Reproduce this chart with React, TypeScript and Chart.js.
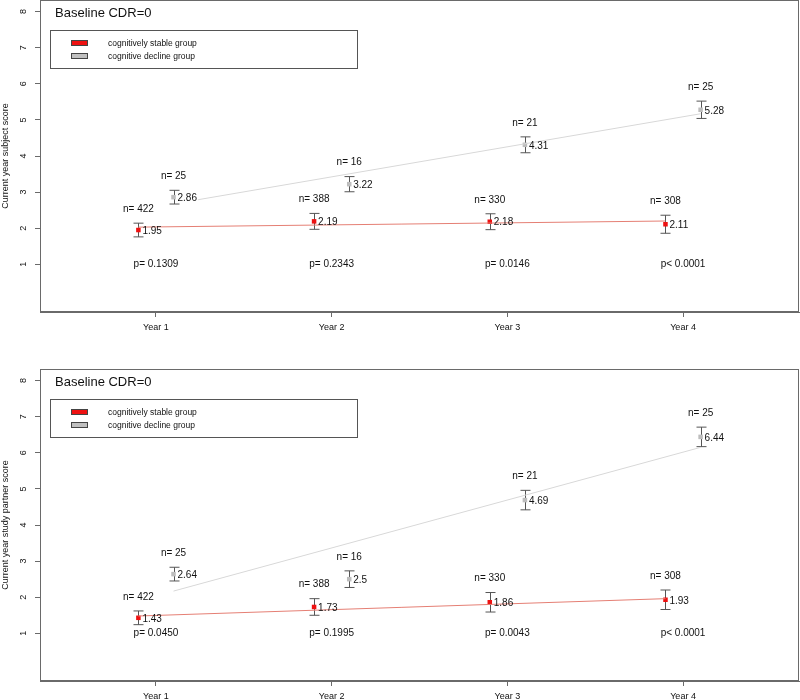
import React, { useEffect, useRef } from 'react';
import { Chart, registerables } from 'chart.js';

Chart.register(...registerables);

// ---------- data ----------
const years = ['Year 1', 'Year 2', 'Year 3', 'Year 4'];
const yearPositions = [1, 2, 3, 4];
const yTickValues = [1, 2, 3, 4, 5, 6, 7, 8];

const stableN = [422, 388, 330, 308];
const declineN = [25, 16, 21, 25];

// Top panel: subject score
const subjStableMean = [1.95, 2.19, 2.18, 2.11];
const subjStableErr = [0.19, 0.22, 0.22, 0.25];
const subjDeclineMean = [2.86, 3.22, 4.31, 5.28];
const subjDeclineErr = [0.19, 0.21, 0.22, 0.24];
const subjPLabels = ['p= 0.1309', 'p= 0.2343', 'p= 0.0146', 'p< 0.0001'];
const subjStableTrendX = [0.9, 3.9];
const subjStableTrendY = [2.03, 2.2];
const subjDeclineTrendX = [1.24, 4.1];
const subjDeclineTrendY = [2.79, 5.17];

// Bottom panel: study partner score
const partStableMean = [1.43, 1.73, 1.86, 1.93];
const partStableErr = [0.19, 0.23, 0.27, 0.27];
const partDeclineMean = [2.64, 2.5, 4.69, 6.44];
const partDeclineErr = [0.19, 0.23, 0.27, 0.27];
const partPLabels = ['p= 0.0450', 'p= 0.1995', 'p= 0.0043', 'p< 0.0001'];
const partStableTrendX = [0.9, 3.9];
const partStableTrendY = [1.48, 1.96];
const partDeclineTrendX = [1.1, 4.1];
const partDeclineTrendY = [2.17, 6.15];

const panelTitle = 'Baseline CDR=0';
const legendLabels = ['cognitively stable group', 'cognitive decline group'];
const pLabelLevel = 1;

// ---------- style ----------
const FONT = '"Liberation Sans", Arial, sans-serif';
const GROUP_OFFSET = 0.1;
const RED = '#ee1111';
const GREY_PT = '#bdbdbd';
const RED_LINE = '#e57f74';
const GREY_LINE = '#d8d8d8';
const AXIS = '#6a6a6a';
const TEXT = '#111111';

type PanelCfg = {
  yLabel: string;
  stableMean: number[];
  stableErr: number[];
  declineMean: number[];
  declineErr: number[];
  pLabels: string[];
  stableTrendX: number[];
  stableTrendY: number[];
  declineTrendX: number[];
  declineTrendY: number[];
};

const topCfg: PanelCfg = {
  yLabel: 'Current year subject score',
  stableMean: subjStableMean,
  stableErr: subjStableErr,
  declineMean: subjDeclineMean,
  declineErr: subjDeclineErr,
  pLabels: subjPLabels,
  stableTrendX: subjStableTrendX,
  stableTrendY: subjStableTrendY,
  declineTrendX: subjDeclineTrendX,
  declineTrendY: subjDeclineTrendY,
};

const bottomCfg: PanelCfg = {
  yLabel: 'Current year study partner score',
  stableMean: partStableMean,
  stableErr: partStableErr,
  declineMean: partDeclineMean,
  declineErr: partDeclineErr,
  pLabels: partPLabels,
  stableTrendX: partStableTrendX,
  stableTrendY: partStableTrendY,
  declineTrendX: partDeclineTrendX,
  declineTrendY: partDeclineTrendY,
};

function makePlugin(cfg: PanelCfg) {
  const groups = [
    { mean: cfg.stableMean, err: cfg.stableErr, n: stableN, off: -GROUP_OFFSET },
    { mean: cfg.declineMean, err: cfg.declineErr, n: declineN, off: GROUP_OFFSET },
  ];
  return {
    id: 'annot',
    beforeDatasetsDraw(chart: any) {
      const { ctx, scales } = chart;
      const xs = scales.x;
      const ys = scales.y;
      ctx.save();
      ctx.strokeStyle = '#555';
      ctx.lineWidth = 1;
      groups.forEach((g) => {
        yearPositions.forEach((yr, i) => {
          const px = Math.round(xs.getPixelForValue(yr + g.off)) + 0.5;
          const top = ys.getPixelForValue(g.mean[i] + g.err[i]);
          const bot = ys.getPixelForValue(g.mean[i] - g.err[i]);
          ctx.beginPath();
          ctx.moveTo(px, top);
          ctx.lineTo(px, bot);
          ctx.moveTo(px - 5, top);
          ctx.lineTo(px + 5, top);
          ctx.moveTo(px - 5, bot);
          ctx.lineTo(px + 5, bot);
          ctx.stroke();
        });
      });
      ctx.restore();
    },
    afterDatasetsDraw(chart: any) {
      const { ctx, scales, chartArea } = chart;
      const xs = scales.x;
      const ys = scales.y;
      ctx.save();
      // frame
      ctx.strokeStyle = AXIS;
      ctx.lineWidth = 1;
      ctx.strokeRect(
        Math.round(chartArea.left) + 0.5,
        Math.round(chartArea.top) + 0.5,
        Math.round(chartArea.right - chartArea.left) - 1,
        Math.round(chartArea.bottom - chartArea.top) - 1
      );

      ctx.fillStyle = TEXT;
      ctx.font = `10px ${FONT}`;
      groups.forEach((g) => {
        yearPositions.forEach((yr, i) => {
          const px = xs.getPixelForValue(yr + g.off);
          const py = ys.getPixelForValue(g.mean[i]);
          const topPx = ys.getPixelForValue(g.mean[i] + g.err[i]);
          ctx.textAlign = 'left';
          ctx.textBaseline = 'middle';
          ctx.fillText(g.mean[i].toString(), px + 4, py + 1);
          ctx.textAlign = 'center';
          ctx.fillText('n= ' + g.n[i], px, topPx - 14);
        });
      });
      cfg.pLabels.forEach((lab, i) => {
        ctx.textAlign = 'center';
        ctx.textBaseline = 'middle';
        ctx.fillText(lab, xs.getPixelForValue(yearPositions[i]), ys.getPixelForValue(pLabelLevel));
      });

      // title
      const L = chartArea.left;
      const T = chartArea.top;
      ctx.font = `13px ${FONT}`;
      ctx.textAlign = 'left';
      ctx.textBaseline = 'middle';
      ctx.fillText(panelTitle, L + 15, T + 13);

      // legend
      ctx.strokeStyle = '#555';
      ctx.strokeRect(L + 10.5, T + 30.5, 307, 38);
      const sw = [RED, '#c0c0c0'];
      ctx.font = `8.5px ${FONT}`;
      legendLabels.forEach((lab, i) => {
        const yy = T + 40 + i * 13;
        ctx.fillStyle = sw[i];
        ctx.fillRect(L + 31, yy, 17, 6);
        ctx.strokeStyle = '#444';
        ctx.strokeRect(L + 31.5, yy + 0.5, 16, 5);
        ctx.fillStyle = TEXT;
        ctx.textAlign = 'left';
        ctx.textBaseline = 'middle';
        ctx.fillText(lab, L + 68, yy + 3.5);
      });
      ctx.restore();
    },
  };
}

function Panel({ cfg, height, padTop }: { cfg: PanelCfg; height: number; padTop: number }) {
  const ref = useRef<HTMLCanvasElement>(null);
  useEffect(() => {
    const canvas = ref.current;
    if (!canvas) return;
    const chart = new Chart(canvas, {
      type: 'scatter',
      data: {
        datasets: [
          {
            type: 'line',
            label: 'stable trend',
            data: cfg.stableTrendX.map((x, i) => ({ x, y: cfg.stableTrendY[i] })),
            borderColor: RED_LINE,
            borderWidth: 1,
            pointRadius: 0,
            fill: false,
          },
          {
            type: 'line',
            label: 'decline trend',
            data: cfg.declineTrendX.map((x, i) => ({ x, y: cfg.declineTrendY[i] })),
            borderColor: GREY_LINE,
            borderWidth: 1,
            pointRadius: 0,
            fill: false,
          },
          {
            label: legendLabels[0],
            data: yearPositions.map((yr, i) => ({ x: yr - GROUP_OFFSET, y: cfg.stableMean[i] })),
            pointStyle: 'rect',
            pointRadius: 3.2,
            backgroundColor: RED,
            borderWidth: 0,
            showLine: false,
          },
          {
            label: legendLabels[1],
            data: yearPositions.map((yr, i) => ({ x: yr + GROUP_OFFSET, y: cfg.declineMean[i] })),
            pointStyle: 'rect',
            pointRadius: 3.2,
            backgroundColor: GREY_PT,
            borderWidth: 0,
            showLine: false,
          },
        ],
      } as any,
      options: {
        responsive: false,
        animation: false,
        layout: { autoPadding: false, padding: { top: padTop, right: 1, left: 0, bottom: 0 } },
        plugins: { legend: { display: false }, tooltip: { enabled: false } },
        scales: {
          x: {
            type: 'linear',
            min: 0.34,
            max: 4.66,
            afterBuildTicks: (s: any) => {
              s.ticks = yearPositions.map((v) => ({ value: v }));
            },
            afterFit: (s: any) => {
              s.height = 33;
              s.paddingLeft = 0;
              s.paddingRight = 0;
              s.paddingTop = 0;
              s.paddingBottom = 0;
            },
            grid: { drawOnChartArea: false, drawTicks: true, tickLength: 5, color: AXIS, tickColor: AXIS },
            border: { display: true, color: AXIS },
            ticks: {
              callback: (v: any) => years[Math.round(Number(v)) - 1],
              font: { size: 9, family: FONT },
              color: TEXT,
              padding: 5,
              maxRotation: 0,
              autoSkip: false,
            },
          },
          y: {
            type: 'linear',
            min: -0.32,
            max: 8.32,
            afterBuildTicks: (s: any) => {
              s.ticks = yTickValues.map((v) => ({ value: v }));
            },
            afterFit: (s: any) => {
              s.width = 40;
              s.paddingLeft = 0;
              s.paddingRight = 0;
              s.paddingTop = 0;
              s.paddingBottom = 0;
            },
            grid: { drawOnChartArea: false, drawTicks: true, tickLength: 5, color: AXIS, tickColor: AXIS },
            border: { display: true, color: AXIS },
            ticks: {
              font: { size: 9, family: FONT },
              color: TEXT,
              padding: 9,
              minRotation: 90,
              maxRotation: 90,
              crossAlign: 'center',
              autoSkip: false,
            },
            title: {
              display: true,
              text: cfg.yLabel,
              font: { size: 9, family: FONT },
              color: TEXT,
              padding: 0,
            },
          },
        },
      } as any,
      plugins: [makePlugin(cfg)],
    });
    return () => chart.destroy();
  }, [cfg]);
  return <canvas ref={ref} width={800} height={height} style={{ display: 'block', width: 800, height }} />;
}

export default function App() {
  return (
    <div
      style={{
        position: 'fixed',
        left: 0,
        top: 0,
        width: 800,
        height: 700,
        overflow: 'hidden',
        background: '#ffffff',
      }}
    >
      <Panel cfg={topCfg} height={345} padTop={0} />
      <Panel cfg={bottomCfg} height={369} padTop={24} />
    </div>
  );
}
